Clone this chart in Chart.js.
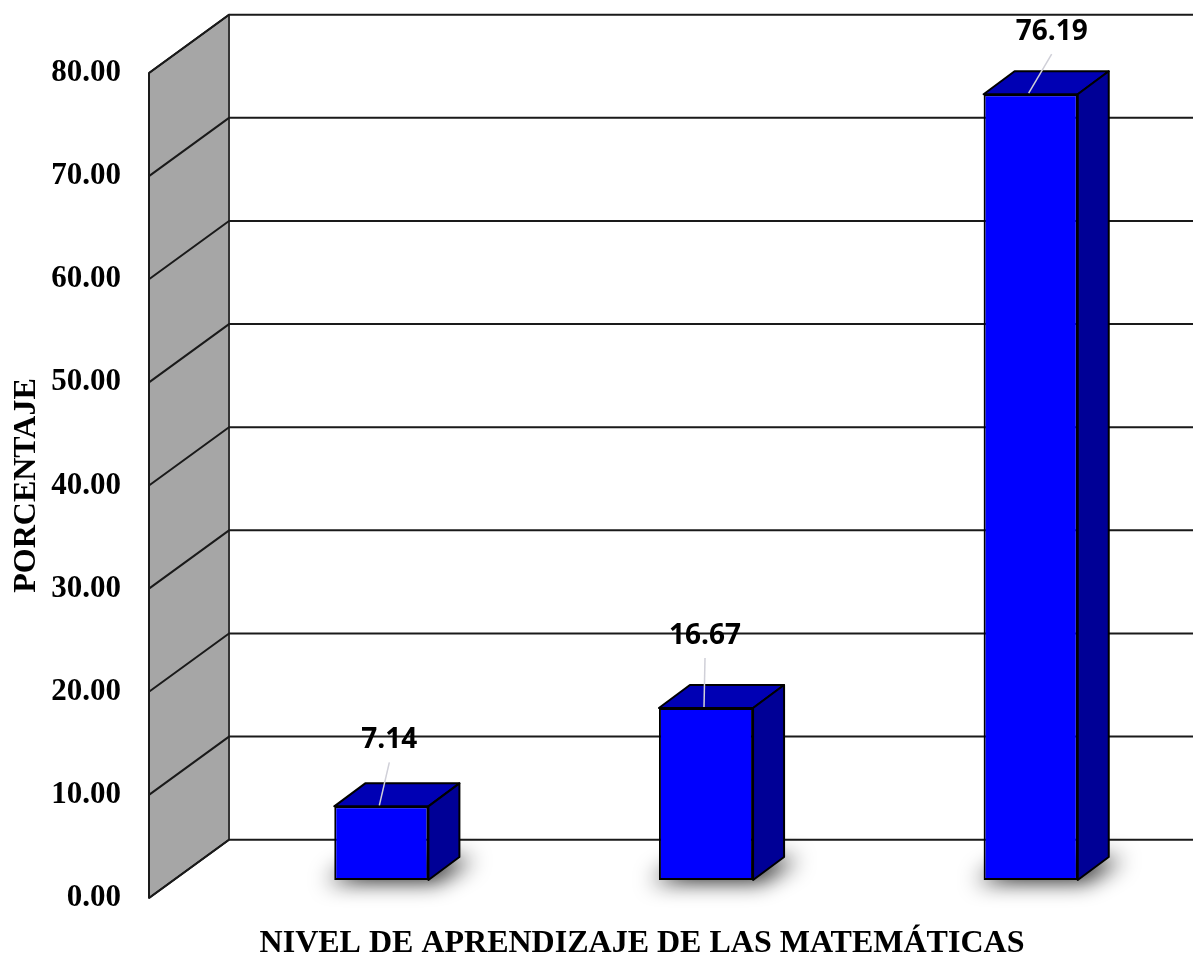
<!DOCTYPE html>
<html>
<head>
<meta charset="utf-8">
<script src="https://cdn.jsdelivr.net/npm/chart.js@4.4.1/dist/chart.umd.min.js"></script>
<style>
  html, body { margin: 0; padding: 0; background: #ffffff; }
  #wrap { width: 1193px; height: 959px; }
</style>
</head>
<body>
<div id="wrap"><canvas id="c" width="1193" height="959"></canvas></div>
<script>
// ---- data ----
const categories = ["Inicio", "Proceso", "Logro"];
const percentages = [7.14, 16.67, 76.19];
const valueLabels = ["7.14", "16.67", "76.19"];
const yTickValues = [0, 10, 20, 30, 40, 50, 60, 70, 80];
const xAxisTitle = "NIVEL DE APRENDIZAJE DE LAS MATEMÁTICAS";
const yAxisTitle = "PORCENTAJE";
// label nudges (px) relative to the top-front centre of each bar
const labelNudgeX = [8, -1, 21];
const labelNudgeY = [-66, -72, -62];

// ---- geometry / style constants ----
const SERIF = "'Liberation Serif', 'Times New Roman', serif";
const DEPTH_DX = 31, DEPTH_DY = -23;      // bar depth
const WALL_FRONT_DX = -70, WALL_BACK_DX = 10;

const threeD = {
  id: 'threeD',
  beforeDatasetsDraw(chart) {
    const ctx = chart.ctx;
    const ca = chart.chartArea;
    const yF = chart.scales.y, yB = chart.scales.yBack;
    const xF = ca.left + WALL_FRONT_DX, xB = ca.left + WALL_BACK_DX;
    const vMin = yTickValues[0], vMax = yTickValues[yTickValues.length - 1];
    ctx.save();
    // side wall
    ctx.beginPath();
    ctx.moveTo(xF, yF.getPixelForValue(vMin));
    ctx.lineTo(xF, yF.getPixelForValue(vMax));
    ctx.lineTo(xB, yB.getPixelForValue(vMax));
    ctx.lineTo(xB, yB.getPixelForValue(vMin));
    ctx.closePath();
    ctx.fillStyle = '#a6a6a6';
    ctx.fill();
    ctx.lineWidth = 2;
    ctx.strokeStyle = '#1a1a1a';
    ctx.lineJoin = 'round';
    ctx.stroke();
    // back vertical edge
    ctx.beginPath();
    ctx.moveTo(xB, yB.getPixelForValue(vMin));
    ctx.lineTo(xB, yB.getPixelForValue(vMax));
    ctx.lineWidth = 1.5;
    ctx.strokeStyle = '#404040';
    ctx.stroke();
    // grid on side wall and back wall
    ctx.lineWidth = 2;
    ctx.strokeStyle = '#1a1a1a';
    yTickValues.forEach(v => {
      const pf = yF.getPixelForValue(v), pb = yB.getPixelForValue(v);
      ctx.beginPath();
      ctx.moveTo(xF, pf);
      ctx.lineTo(xB, pb);
      ctx.lineTo(ca.right, pb);
      ctx.stroke();
    });
    // bar shadows (shape drawn off-canvas, only its blurred shadow lands here)
    const meta = chart.getDatasetMeta(0);
    const OFF = 3000;
    meta.data.forEach(bar => {
      const x0 = bar.x - bar.width / 2, x1 = bar.x + bar.width / 2, b = bar.base;
      ctx.save();
      ctx.shadowColor = 'rgba(0,0,0,0.95)';
      ctx.shadowBlur = 22;
      ctx.shadowOffsetX = OFF;
      ctx.shadowOffsetY = 0;
      ctx.fillStyle = '#000';
      ctx.beginPath();
      ctx.moveTo(x0 - 8 - OFF, b + 1);
      ctx.lineTo(x1 + 8 - OFF, b + 1);
      ctx.lineTo(x1 + DEPTH_DX + 14 - OFF, b + DEPTH_DY + 2);
      ctx.lineTo(x0 + DEPTH_DX - OFF, b + DEPTH_DY + 2);
      ctx.closePath();
      ctx.fill();
      ctx.restore();
    });
    ctx.restore();
  },
  afterDatasetsDraw(chart) {
    const ctx = chart.ctx;
    const meta = chart.getDatasetMeta(0);
    ctx.save();
    ctx.lineJoin = 'round';
    meta.data.forEach((bar, i) => {
      const x0 = bar.x - bar.width / 2, x1 = bar.x + bar.width / 2;
      const t = bar.y, b = bar.base;
      // top face
      ctx.beginPath();
      ctx.moveTo(x0, t);
      ctx.lineTo(x0 + DEPTH_DX, t + DEPTH_DY);
      ctx.lineTo(x1 + DEPTH_DX, t + DEPTH_DY);
      ctx.lineTo(x1, t);
      ctx.closePath();
      ctx.fillStyle = '#0000b4';
      ctx.fill();
      ctx.lineWidth = 2;
      ctx.strokeStyle = '#000000';
      ctx.stroke();
      // right face
      ctx.beginPath();
      ctx.moveTo(x1, t);
      ctx.lineTo(x1 + DEPTH_DX, t + DEPTH_DY);
      ctx.lineTo(x1 + DEPTH_DX, b + DEPTH_DY);
      ctx.lineTo(x1, b);
      ctx.closePath();
      ctx.fillStyle = '#000096';
      ctx.fill();
      ctx.stroke();
      // leader line + value label
      const lx = bar.x + labelNudgeX[i], ly = t + labelNudgeY[i];
      ctx.beginPath();
      ctx.moveTo(bar.x - 2, t - 1);
      ctx.lineTo(lx, ly + 22);
      ctx.lineWidth = 1.5;
      ctx.strokeStyle = '#d0d0d8';
      ctx.stroke();
      ctx.fillStyle = '#000000';
      ctx.font = "bold 28px 'Open Sans', 'Noto Sans', sans-serif";
      ctx.textAlign = 'center';
      ctx.textBaseline = 'middle';
      ctx.fillText(valueLabels[i], lx, ly);
    });
    ctx.restore();
  },
  afterDraw(chart) {
    const ctx = chart.ctx;
    ctx.save();
    ctx.font = "bold 32px " + SERIF;
    ctx.fillStyle = '#000000';
    ctx.textAlign = 'center';
    ctx.textBaseline = 'middle';
    ctx.fillText(xAxisTitle, 642, 944);
    ctx.restore();
  }
};

new Chart(document.getElementById('c'), {
  type: 'bar',
  data: {
    labels: categories,
    datasets: [{
      data: percentages,
      yAxisID: 'yBar',
      backgroundColor: '#0000ff',
      borderColor: '#000000',
      borderWidth: 2,
      borderSkipped: false,
      barPercentage: 0.29,
      categoryPercentage: 1.0
    }]
  },
  options: {
    responsive: false,
    animation: false,
    events: [],
    layout: { padding: { top: 73, right: 0, bottom: 0, left: 0 } },
    plugins: { legend: { display: false }, tooltip: { enabled: false } },
    scales: {
      x: {
        type: 'category',
        display: true,
        grid: { display: false },
        border: { display: false },
        ticks: { display: false },
        afterFit(scale) { scale.height = 61; }
      },
      y: {
        position: 'left',
        min: yTickValues[0],
        max: yTickValues[yTickValues.length - 1],
        afterBuildTicks(scale) { scale.ticks = yTickValues.map(v => ({ value: v })); },
        grid: { display: false, drawTicks: true, tickLength: 98 },
        border: { display: false },
        ticks: {
          padding: 0,
          color: '#000000',
          font: { family: SERIF, size: 31, weight: 'bold' },
          callback: v => Number(v).toFixed(2)
        },
        title: {
          display: true,
          text: yAxisTitle,
          color: '#000000',
          font: { family: SERIF, size: 32, weight: 'bold', lineHeight: 1.2 },
          padding: { top: 8, bottom: 0 }
        },
        afterFit(scale) { scale.width = 219; }
      },
      yBar: {
        display: false,
        min: -1.75,
        max: 78.25
      },
      yBack: {
        display: false,
        min: -5.65,
        max: 74.35
      }
    }
  },
  plugins: [threeD]
});
</script>
</body>
</html>
